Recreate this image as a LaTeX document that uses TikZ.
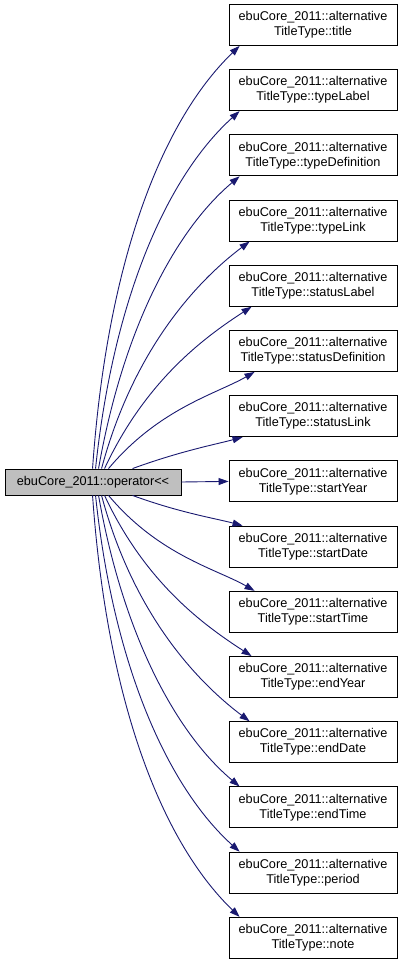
\documentclass[tikz,border=0pt]{standalone}
\usepackage{fontspec}
\setmainfont{Liberation Sans}
\usetikzlibrary{arrows.meta,calc}
\definecolor{edgeblue}{HTML}{191970}
\definecolor{srcgray}{HTML}{BFBFBF}
\begin{document}
\begin{tikzpicture}[x=1pt,y=1pt,
  box/.style={draw=black,line width=0.9pt,inner sep=0pt,align=center,
    font=\fontsize{12.7}{15}\selectfont,text=black},
  src/.style={box,fill=srcgray,minimum width=176pt,minimum height=26pt},
  dst/.style={box,fill=white,minimum width=168pt,minimum height=41pt},
  edge/.style={draw=edgeblue,line width=0.9pt,-{Triangle[length=10pt,width=7pt]}}]
\useasboundingbox (0,0) rectangle (405,-965);
\node[src] (L) at (93,-482) {ebuCore\_2011::operator<{}<};
\foreach \n [count=\i from 0] in {title,typeLabel,typeDefinition,typeLink,statusLabel,statusDefinition,statusLink,startYear,startDate,startTime,endYear,endDate,endTime,period,note} {
  \node[dst] (r\i) at (313,{-(25+65.2*\i)}) {ebuCore\_2011::alternative\\TitleType::\n};
}
\foreach \i/\sx/\ex/\ts/\te in {0/93/240/86/224,1/96/240/84/222,2/99/240/80/220,3/102/250/75/217,4/105/252/65/213,5/109/255/50/210,6/133/243/20/195} {
  \draw[edge] ($(L.north west)+(\sx-5,0)$) to[out=\ts,in=\te,out looseness=1.15,in looseness=0.64] ($(r\i.south west)+(\ex-229,0)$);
}
\foreach \j/\sx/\ex/\ts/\te in {14/93/240/-86/136,13/96/240/-84/138,12/99/240/-80/140,11/102/250/-75/143,10/105/252/-65/147,9/109/255/-50/150,8/133/243/-20/165} {
  \draw[edge] ($(L.south west)+(\sx-5,0)$) to[out=\ts,in=\te,out looseness=1.15,in looseness=0.64] ($(r\j.north west)+(\ex-229,0)$);
}
\draw[edge] (L.east) -- (r7.west);
\end{tikzpicture}
\end{document}
